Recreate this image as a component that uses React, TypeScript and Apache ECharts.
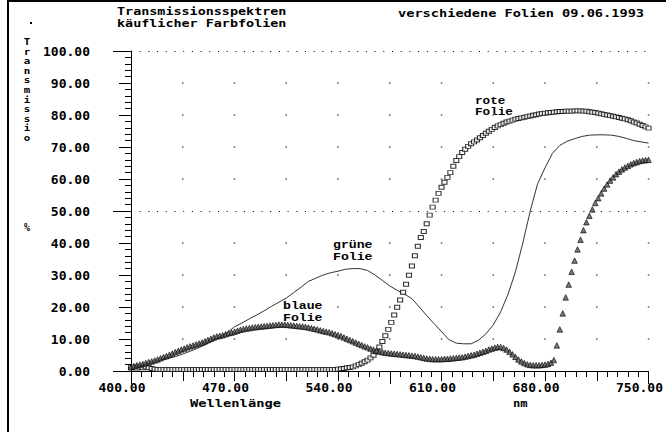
import { useEffect, useRef } from 'react';
import * as echarts from 'echarts';

// wavelengths (nm): marker series sampled every 2 nm, green line every 5 nm, starting at 400 nm
const WL_START = 400;
const MARK_STEP = 2;
const LINE_STEP = 5;

// blaue Folie (triangles), 400..750 nm step 2
const blaueFolie = [
  1.2, 1.5, 1.8, 2.0, 2.2, 2.5, 2.8, 3.0, 3.3, 3.6,
  4.0, 4.4, 4.7, 5.1, 5.5, 5.9, 6.3, 6.7, 7.0, 7.4,
  7.7, 8.0, 8.3, 8.6, 8.9, 9.3, 9.7, 10.1, 10.5, 10.8,
  11.0, 11.2, 11.5, 11.8, 12.0, 12.3, 12.6, 12.9, 13.1, 13.3,
  13.4, 13.6, 13.7, 13.8, 13.9, 14.0, 14.1, 14.2, 14.3, 14.4,
  14.5, 14.5, 14.5, 14.4, 14.3, 14.2, 14.1, 14.0, 13.9, 13.8,
  13.6, 13.4, 13.2, 13.0, 12.7, 12.5, 12.3, 12.1, 11.8, 11.5,
  11.2, 10.9, 10.5, 10.1, 9.7, 9.3, 8.9, 8.5, 8.1, 7.7,
  7.4, 7.0, 6.7, 6.4, 6.1, 5.9, 5.7, 5.6, 5.5, 5.4,
  5.3, 5.2, 5.1, 5.0, 4.9, 4.8, 4.7, 4.5, 4.3, 4.1,
  3.9, 3.8, 3.7, 3.7, 3.7, 3.7, 3.8, 3.8, 3.9, 4.0,
  4.1, 4.2, 4.3, 4.5, 4.7, 4.9, 5.1, 5.4, 5.7, 6.0,
  6.3, 6.7, 7.0, 7.3, 7.5, 7.5, 7.2, 6.7, 6.0, 5.2,
  4.4, 3.6, 3.0, 2.5, 2.1, 1.9, 1.8, 1.8, 1.8, 1.9,
  2.0, 2.2, 2.6, 3.4, 8.0, 13.0, 18.0, 23.0, 27.0, 31.0,
  34.5, 38.0, 41.0, 44.0, 46.5, 48.5, 50.5, 52.5, 54.0, 55.5,
  57.0, 58.3, 59.5, 60.5, 61.5, 62.3, 63.0, 63.6, 64.1, 64.6,
  65.0, 65.3, 65.6, 65.8, 65.9, 66.0,
];

// rote Folie (open squares), 400..750 nm step 2
const roteFolie = [
  1.0, 1.3, 0.9, 1.2, 1.0, 1.3, 1.0, 0.8, 0.6, 0.5,
  0.5, 0.5, 0.5, 0.5, 0.5, 0.5, 0.5, 0.5, 0.5, 0.5,
  0.5, 0.5, 0.5, 0.5, 0.5, 0.5, 0.5, 0.5, 0.5, 0.5,
  0.5, 0.5, 0.5, 0.5, 0.5, 0.5, 0.5, 0.5, 0.5, 0.5,
  0.5, 0.5, 0.5, 0.5, 0.5, 0.5, 0.5, 0.5, 0.5, 0.5,
  0.5, 0.5, 0.5, 0.5, 0.5, 0.5, 0.5, 0.5, 0.5, 0.5,
  0.5, 0.5, 0.5, 0.5, 0.5, 0.5, 0.5, 0.5, 0.5, 0.5,
  0.6, 0.7, 0.8, 1.0, 1.1, 1.3, 1.6, 2.0, 2.4, 2.9,
  3.4, 4.1, 4.9, 6.0, 7.5, 9.2, 11.0, 13.0, 15.2, 17.5,
  19.9, 22.2, 24.6, 27.1, 29.9, 32.8, 36.0, 39.0, 41.7, 43.6,
  46.0, 48.7, 51.2, 53.4, 55.5, 57.4, 59.0, 60.5, 62.0, 64.0,
  65.8, 67.0, 68.3, 69.3, 70.2, 71.0, 71.6, 72.2, 72.9, 73.6,
  74.3, 74.9, 75.5, 76.1, 76.6, 77.0, 77.4, 77.8, 78.1, 78.4,
  78.7, 78.9, 79.1, 79.3, 79.5, 79.7, 79.9, 80.1, 80.3, 80.5,
  80.6, 80.7, 80.8, 80.9, 81.0, 81.1, 81.1, 81.2, 81.2, 81.2,
  81.3, 81.3, 81.3, 81.2, 81.2, 81.0, 80.9, 80.8, 80.6, 80.4,
  80.2, 80.0, 79.8, 79.6, 79.4, 79.2, 79.0, 78.8, 78.5, 78.2,
  77.8, 77.5, 77.1, 76.7, 76.3, 75.9,
];

// grüne Folie (thin line), 400..750 nm step 5
const grueneFolie = [
  1.2, 1.6, 2.1, 2.7, 3.3, 3.9, 4.5, 5.3, 6.2, 7.1,
  8.2, 9.3, 10.6, 12.0, 13.8, 15.0, 16.3, 17.5, 18.8, 20.2,
  21.5, 22.8, 24.5, 26.2, 28.0, 29.0, 30.0, 30.7, 31.2, 31.8,
  32.0, 32.0, 31.4, 30.0, 28.3, 26.6, 25.2, 24.0, 22.6, 20.0,
  17.3, 14.8, 12.3, 9.8, 8.7, 8.5, 8.5, 9.6, 11.6, 14.4,
  18.5, 24.0, 31.0, 40.0, 50.0, 58.5, 63.5, 68.0, 70.5, 71.8,
  72.6, 73.3, 73.7, 73.8, 73.8, 73.7, 73.3, 72.7, 72.0, 71.6, 71.2,
];

const X_MIN = 400;
const X_MAX = 750;
const X_TICK = 35;
const X_LABEL_STEP = 70;
const X_LONG_TICK = 175;
const Y_MIN = 0;
const Y_MAX = 100;
const Y_TICK = 10;
const Y_LONG_TICK = 50;

const titleText = 'Transmissionsspektren\nkäuflicher Farbfolien';
const subtitle = 'verschiedene Folien 09.06.1993';
const yName = 'Transmissio';
const yUnit = '%';
const xName = 'Wellenlänge';
const xUnit = 'nm';
const labelGruen = 'grüne\nFolie';
const labelBlau = 'blaue\nFolie';
const labelRot = 'rote\nFolie';

const MONO = '"DejaVu Sans Mono", "Liberation Mono", monospace';
const ANNO = '"Liberation Mono", "DejaVu Sans Mono", monospace';

function toPairs(values: number[], step: number) {
  return values.map((v, i) => [WL_START + i * step, v]);
}

export default function App() {
  const ref = useRef<HTMLDivElement>(null);

  useEffect(() => {
    if (!ref.current) return;
    const chart = echarts.init(ref.current, null, { renderer: 'svg' });

    const gridDots: number[][] = [];
    for (let x = X_MIN + X_TICK; x <= X_MAX; x += X_TICK) {
      for (let y = Y_MIN + Y_TICK; y < Y_MAX; y += Y_TICK) {
        if (y !== Y_LONG_TICK) gridDots.push([x, y]);
      }
    }

    const labelFont = { fontFamily: MONO, fontWeight: 'bold' as const, fontSize: 13, color: '#000' };
    const black = { color: '#000', width: 1 };

    const txt = (text: string, x: number, y: number, font: string, sx = 1, extra: any = {}) => ({
      type: 'text',
      x,
      y,
      scaleX: sx,
      silent: true,
      style: { text, font, fill: '#000', align: 'left', verticalAlign: 'top', ...extra },
    });

    chart.setOption({
      animation: false,
      backgroundColor: '#fff',
      grid: { left: 131, right: 13, top: 51, bottom: 61, containLabel: false },
      xAxis: [
        {
          type: 'value',
          min: X_MIN,
          max: X_MAX,
          interval: X_TICK,
          position: 'bottom',
          offset: 0,
          axisLine: { show: true, onZero: false, lineStyle: black },
          axisTick: { show: true, length: 10, lineStyle: black },
          minorTick: { show: true, splitNumber: 5, length: 6, lineStyle: black },
          splitLine: { show: false },
          axisLabel: {
            ...labelFont,
            margin: 10,
            padding: [0, 18, 0, 0],
            formatter: (v: number) => ((v - X_MIN) % X_LABEL_STEP === 0 ? v.toFixed(2) : ''),
          },
        },
        {
          type: 'value',
          min: X_MIN,
          max: X_MAX,
          interval: X_LONG_TICK,
          position: 'bottom',
          offset: 0,
          axisLine: { show: false, onZero: false },
          axisTick: { show: true, length: 13, lineStyle: black },
          axisLabel: { show: false },
          splitLine: { show: false },
        },
      ],
      yAxis: [
        {
          type: 'value',
          min: Y_MIN,
          max: Y_MAX,
          interval: Y_TICK,
          position: 'left',
          offset: 0,
          axisLine: { show: true, onZero: false, lineStyle: black },
          axisTick: { show: true, length: 12, lineStyle: black },
          minorTick: { show: true, splitNumber: 5, length: 6, lineStyle: black },
          splitLine: { show: false },
          axisLabel: { ...labelFont, margin: 41, formatter: (v: number) => v.toFixed(2) },
        },
        {
          type: 'value',
          min: Y_MIN,
          max: Y_MAX,
          interval: Y_LONG_TICK,
          position: 'left',
          offset: 0,
          axisLine: { show: false, onZero: false },
          axisTick: { show: true, length: 18, lineStyle: black },
          axisLabel: { show: false },
          splitLine: { show: true, lineStyle: { color: '#000', width: 1, type: [1, 7.7] } },
        },
      ],
      series: [
        {
          name: 'grid',
          type: 'scatter',
          silent: true,
          symbol: 'rect',
          symbolSize: 1.5,
          itemStyle: { color: '#333' },
          data: gridDots,
          z: 1,
        },
        {
          name: 'grüne Folie',
          type: 'line',
          data: toPairs(grueneFolie, LINE_STEP),
          showSymbol: false,
          smooth: false,
          lineStyle: { color: '#333', width: 1 },
          z: 3,
        },
        {
          name: 'rote Folie',
          type: 'scatter',
          data: toPairs(roteFolie, MARK_STEP),
          symbol: 'rect',
          symbolSize: [5, 4],
          itemStyle: { color: '#fff', borderColor: '#000', borderWidth: 1 },
          z: 4,
        },
        {
          name: 'blaue Folie',
          type: 'scatter',
          data: toPairs(blaueFolie, MARK_STEP),
          symbol: 'triangle',
          symbolSize: 5.5,
          itemStyle: { color: '#555', borderColor: '#000', borderWidth: 0.8 },
          z: 5,
        },
      ],
      graphic: [
        { type: 'rect', silent: true, shape: { x: 7, y: 0, width: 659, height: 2 }, style: { fill: '#000' } },
        { type: 'rect', silent: true, shape: { x: 7, y: 0, width: 2, height: 432 }, style: { fill: '#000' } },
        { type: 'rect', silent: true, shape: { x: 30, y: 22, width: 2, height: 2 }, style: { fill: '#000' } },
        txt(titleText, 117, 6, `bold 11px ${MONO}`, 1.22, { lineHeight: 11.5 }),
        txt(subtitle, 398, 7, `bold 11px ${MONO}`, 1.24),
        {
          type: 'text',
          x: 27,
          y: 37,
          silent: true,
          scaleX: 1.2,
          style: {
            text: yName.split('').join('\n'),
            font: `bold 9px ${MONO}`,
            fill: '#000',
            align: 'center',
            verticalAlign: 'top',
            lineHeight: 9.6,
          },
        },
        txt(yUnit, 24, 222, `bold 10px ${MONO}`),
        txt(xName, 190, 398, `bold 11px ${MONO}`, 1.25),
        txt(xUnit, 513, 398, `bold 11px ${MONO}`, 1.1),
        txt(labelGruen, 333, 240, `bold 11px ${ANNO}`, 1.2, { lineHeight: 11.5 }),
        txt(labelBlau, 283, 300, `bold 11px ${ANNO}`, 1.2, { lineHeight: 12 }),
        txt(labelRot, 475, 95, `bold 11px ${ANNO}`, 1.15, { lineHeight: 11.5 }),
      ],
    });

    return () => chart.dispose();
  }, []);

  return (
    <div
      ref={ref}
      style={{ position: 'fixed', left: 0, top: 0, width: 666, height: 432, background: '#fff' }}
    />
  );
}
